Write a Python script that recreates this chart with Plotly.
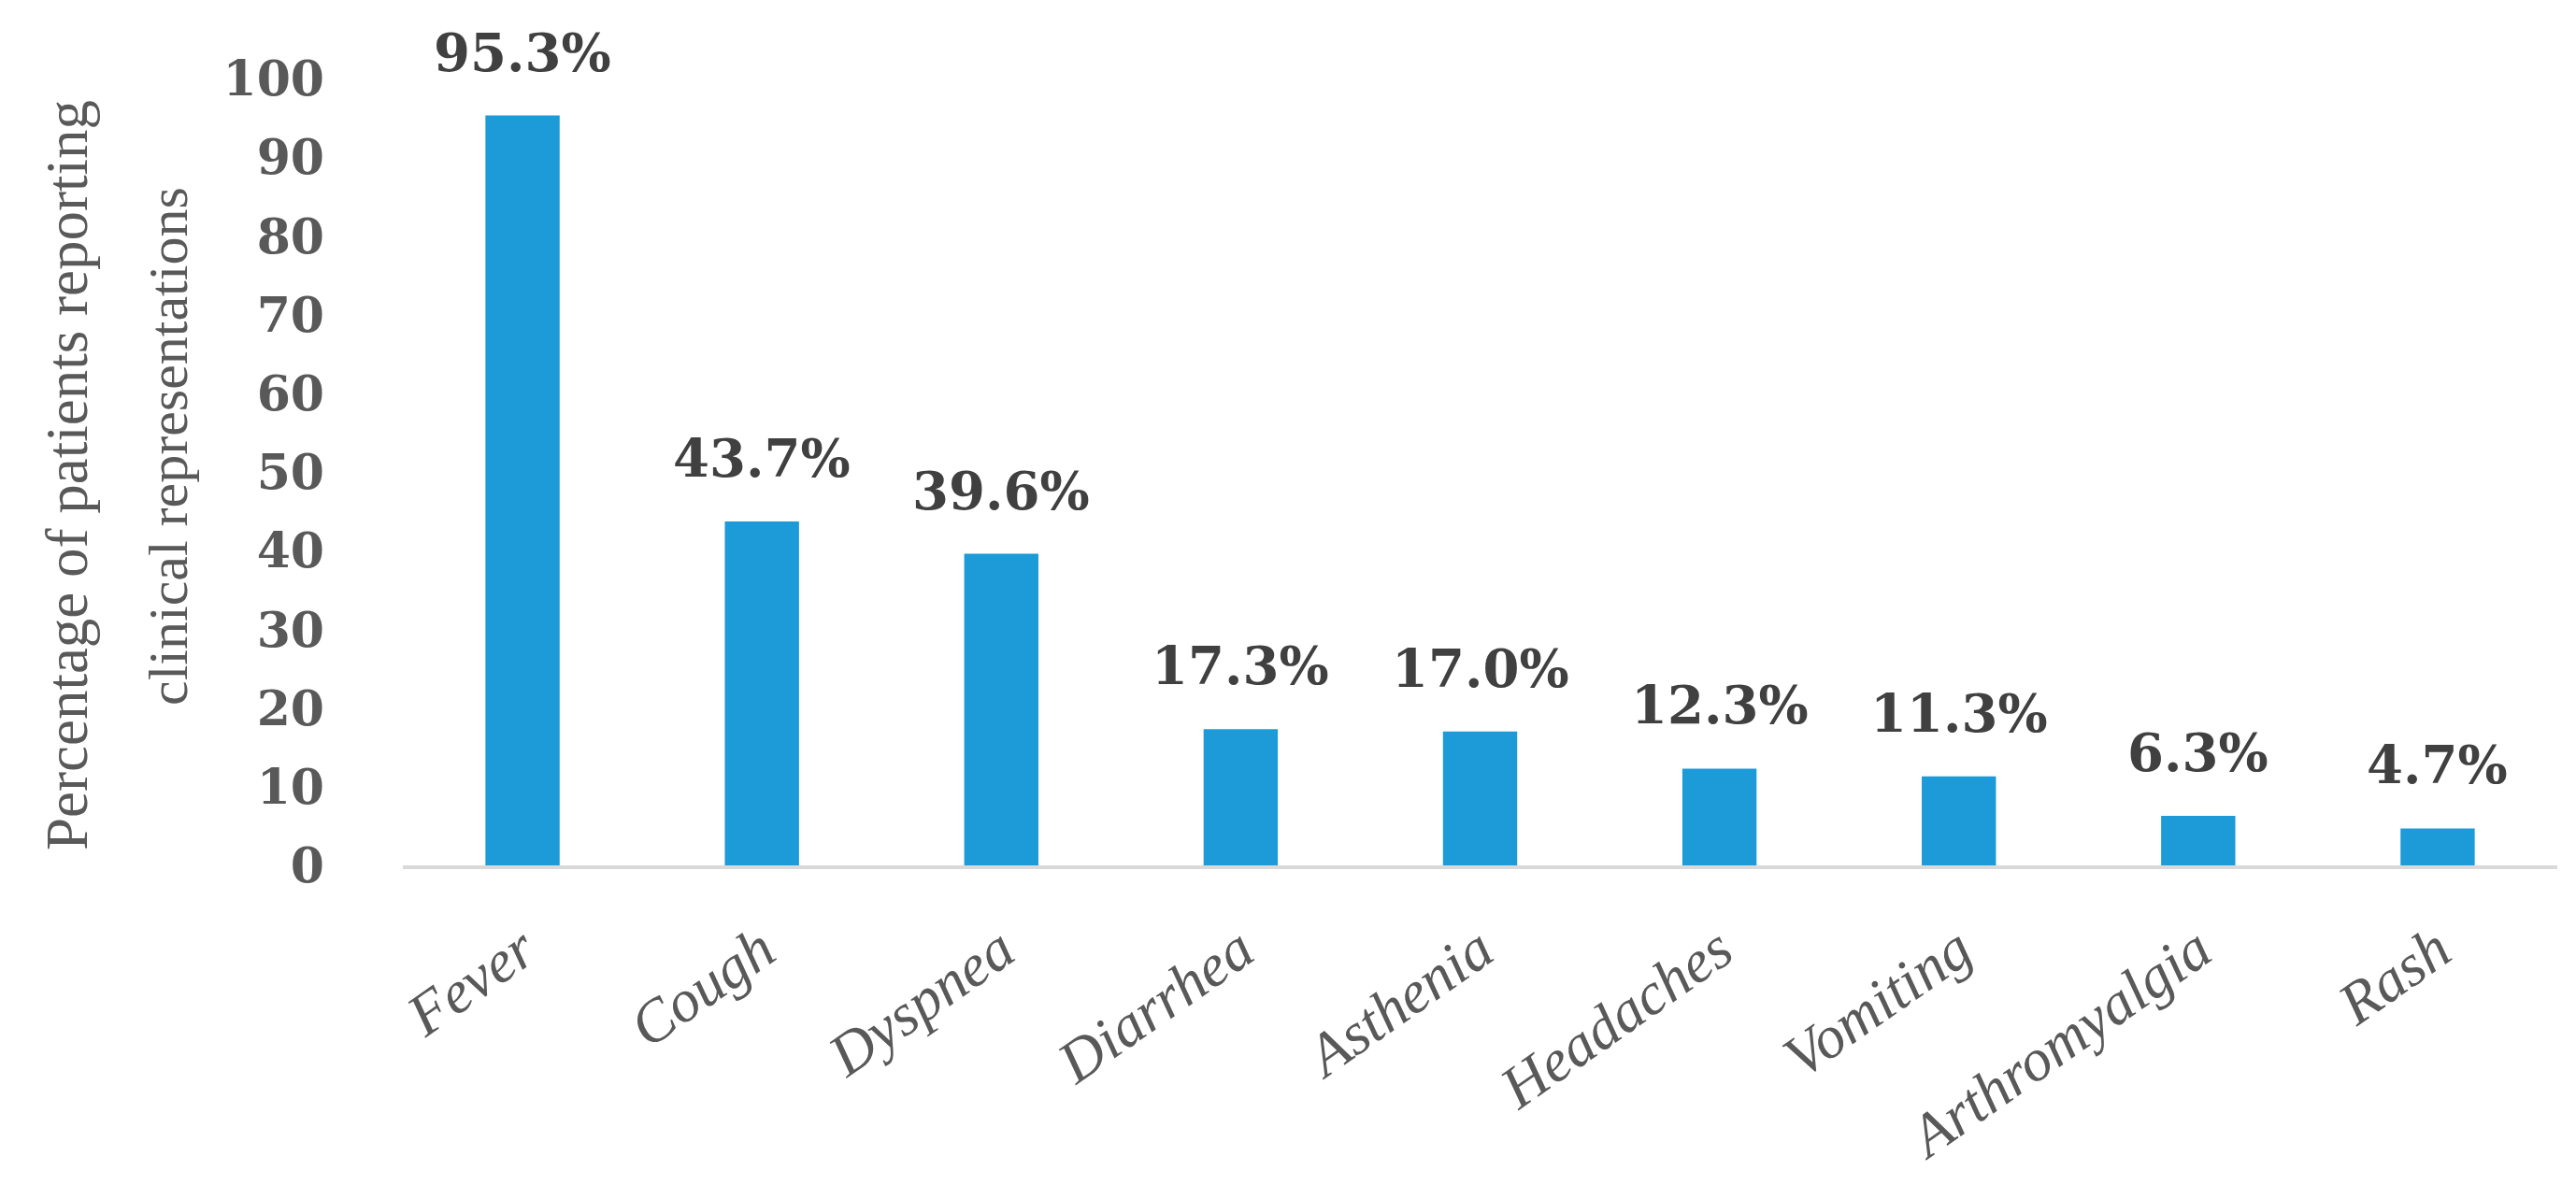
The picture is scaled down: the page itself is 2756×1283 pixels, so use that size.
import plotly.graph_objects as go

categories = ["Fever", "Cough", "Dyspnea", "Diarrhea", "Asthenia",
              "Headaches", "Vomiting", "Arthromyalgia", "Rash"]
values = [95.3, 43.7, 39.6, 17.3, 17.0, 12.3, 11.3, 6.3, 4.7]
y_ticks = [0, 10, 20, 30, 40, 50, 60, 70, 80, 90, 100]
y_title_lines = ["Percentage of patients reporting", "clinical representations"]

W, H = 2756, 1283
ML, MR, MT, MB = 423, 28, 76, 365

BAR = "#1C9BD8"
TICK_GRAY = "#595959"
LABEL_GRAY = "#404040"
SERIF = "Liberation Serif, Times New Roman, serif"
NUM_SERIF = "DejaVu Serif, Liberation Serif, serif"

fig = go.Figure()
fig.add_trace(go.Bar(
    x=categories, y=values,
    marker=dict(color=BAR, line=dict(width=0)),
    width=0.31,
    hoverinfo="x+y",
))

annotations = []
for c, v in zip(categories, values):
    annotations.append(dict(
        x=c, y=v, xref="x", yref="y",
        text=f"<b>{v:.1f}%</b>", showarrow=False,
        xanchor="center", yanchor="bottom", yshift=33,
        font=dict(family=NUM_SERIF, size=56, color=LABEL_GRAY),
    ))

# y-axis title, two lines placed separately
annotations.append(dict(
    x=0, y=0.5, xref="paper", yref="paper", xshift=-(ML - 64), yshift=-4,
    text=y_title_lines[0], showarrow=False, textangle=-90,
    xanchor="center", yanchor="middle",
    font=dict(family=SERIF, size=63, color=TICK_GRAY),
))
annotations.append(dict(
    x=0, y=0.5, xref="paper", yref="paper", xshift=-(ML - 172), yshift=27,
    text=y_title_lines[1], showarrow=False, textangle=-90,
    xanchor="center", yanchor="middle",
    font=dict(family=SERIF, size=60, color=TICK_GRAY),
))

fig.update_layout(
    width=W, height=H,
    margin=dict(l=ML, r=MR, t=MT, b=MB, pad=0),
    paper_bgcolor="white", plot_bgcolor="white",
    showlegend=False,
    annotations=annotations,
    xaxis=dict(
        type="category", range=[-0.5, 8.5],
        showline=True, linecolor="#D9D9D9", linewidth=4,
        showgrid=False, zeroline=False, ticks="",
        tickangle=-35, ticklabelstandoff=24,
        tickfont=dict(family=SERIF, size=64, color=TICK_GRAY, style="italic"),
    ),
    yaxis=dict(
        range=[0, 100], tickvals=y_ticks,
        ticktext=[f"<b>{t}</b>" for t in y_ticks],
        showline=False, showgrid=False, zeroline=False, ticks="",
        ticklabelstandoff=83,
        tickfont=dict(family=NUM_SERIF, size=52, color=TICK_GRAY),
    ),
)

fig.write_html("out.html")
